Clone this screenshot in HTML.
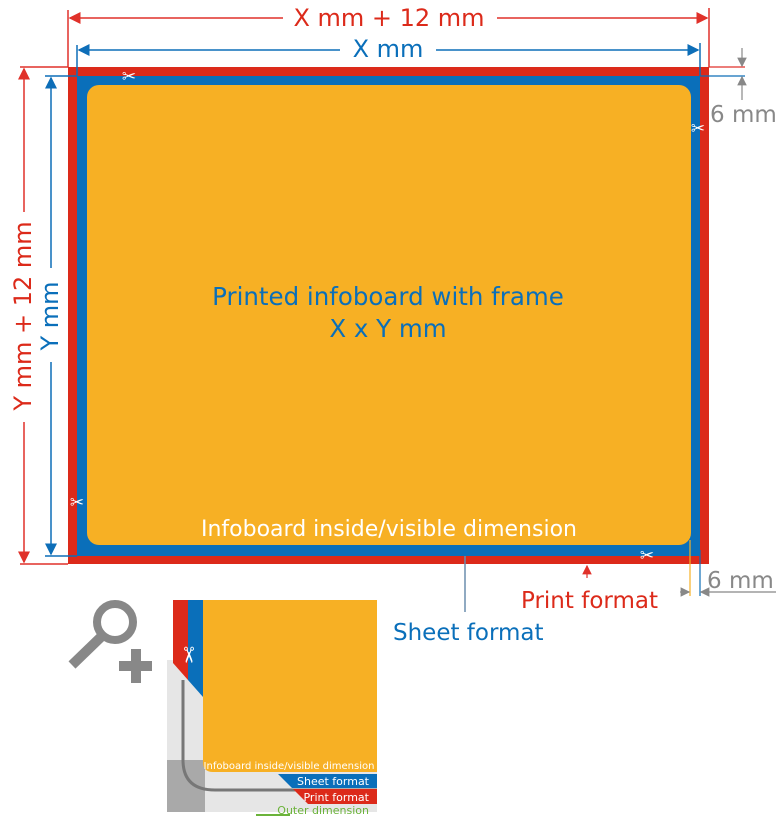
<!DOCTYPE html>
<html><head><style>body{margin:0;background:#fff}svg{display:block}text{font-family:"DejaVu Sans","Liberation Sans",sans-serif}</style></head>
<body>
<svg width="780" height="816" viewBox="0 0 780 816" xmlns="http://www.w3.org/2000/svg">
<defs>
<marker id="ar" markerWidth="8" markerHeight="8" refX="7" refY="4" orient="auto"><path d="M0,0 L8,4 L0,8z" fill="#e0312a"/></marker>
<marker id="ab" markerWidth="8" markerHeight="8" refX="7" refY="4" orient="auto"><path d="M0,0 L8,4 L0,8z" fill="#0d6eb8"/></marker>
<marker id="ag" markerWidth="8" markerHeight="8" refX="7" refY="4" orient="auto"><path d="M0,0 L8,4 L0,8z" fill="#888"/></marker>
</defs>
<rect x="68" y="67" width="641" height="497" fill="#dc2a1a"/>
<rect x="77" y="76" width="623" height="480" fill="#0a6fba"/>
<rect x="87" y="85" width="604" height="460" rx="12" fill="#f7b024"/>
<text x="388" y="305" font-size="24.5" fill="#0a6fba" text-anchor="middle">Printed infoboard with frame</text>
<text x="388" y="337" font-size="24.5" fill="#0a6fba" text-anchor="middle">X x Y mm</text>
<text x="389" y="536" font-size="22" fill="#fff" text-anchor="middle">Infoboard inside/visible dimension</text>
<text x="129" y="82" font-size="17" font-weight="bold" fill="#fff" text-anchor="middle">✂</text>
<text x="698" y="134" font-size="17" font-weight="bold" fill="#fff" text-anchor="middle">✂</text>
<text x="77" y="508" font-size="17" font-weight="bold" fill="#fff" text-anchor="middle">✂</text>
<text x="647" y="561" font-size="17" font-weight="bold" fill="#fff" text-anchor="middle">✂</text>
<line x1="68" y1="10" x2="68" y2="67" stroke="#e0312a" stroke-width="1.5"/>
<line x1="709" y1="8" x2="709" y2="67" stroke="#e0312a" stroke-width="1.5"/>
<line x1="283" y1="18" x2="70" y2="18" stroke="#e0312a" stroke-width="1.5" marker-end="url(#ar)"/>
<line x1="497" y1="18" x2="707" y2="18" stroke="#e0312a" stroke-width="1.5" marker-end="url(#ar)"/>
<text x="389" y="26" font-size="24" fill="#dc2a1a" text-anchor="middle">X mm + 12 mm</text>
<line x1="77" y1="45" x2="77" y2="76" stroke="#0d6eb8" stroke-width="1.5"/>
<line x1="700" y1="43" x2="700" y2="76" stroke="#0d6eb8" stroke-width="1.5"/>
<line x1="340" y1="50" x2="79" y2="50" stroke="#0d6eb8" stroke-width="1.5" marker-end="url(#ab)"/>
<line x1="436" y1="50" x2="698" y2="50" stroke="#0d6eb8" stroke-width="1.5" marker-end="url(#ab)"/>
<text x="388" y="57" font-size="24" fill="#0a6fba" text-anchor="middle">X mm</text>
<line x1="20" y1="67" x2="68" y2="67" stroke="#e0312a" stroke-width="1.5"/>
<line x1="20" y1="564" x2="68" y2="564" stroke="#e0312a" stroke-width="1.5"/>
<line x1="24" y1="212" x2="24" y2="69" stroke="#e0312a" stroke-width="1.5" marker-end="url(#ar)"/>
<line x1="24" y1="422" x2="24" y2="562" stroke="#e0312a" stroke-width="1.5" marker-end="url(#ar)"/>
<text transform="translate(31,316) rotate(-90)" font-size="24" fill="#dc2a1a" text-anchor="middle">Y mm + 12 mm</text>
<line x1="45" y1="76" x2="77" y2="76" stroke="#0d6eb8" stroke-width="1.5"/>
<line x1="45" y1="556" x2="77" y2="556" stroke="#0d6eb8" stroke-width="1.5"/>
<line x1="51" y1="268" x2="51" y2="78" stroke="#0d6eb8" stroke-width="1.5" marker-end="url(#ab)"/>
<line x1="51" y1="362" x2="51" y2="554" stroke="#0d6eb8" stroke-width="1.5" marker-end="url(#ab)"/>
<text transform="translate(58,316) rotate(-90)" font-size="24" fill="#0a6fba" text-anchor="middle">Y mm</text>
<line x1="709" y1="67" x2="745" y2="67" stroke="#e0312a" stroke-width="1.2"/>
<line x1="700" y1="76" x2="745" y2="76" stroke="#0d6eb8" stroke-width="1.2"/>
<line x1="742" y1="48" x2="742" y2="66" stroke="#888" stroke-width="1.2" marker-end="url(#ag)"/>
<line x1="742" y1="100" x2="742" y2="77" stroke="#888" stroke-width="1.2" marker-end="url(#ag)"/>
<text x="710" y="122" font-size="23" fill="#888">6 mm</text>
<line x1="690" y1="540" x2="690" y2="596" stroke="#f7b024" stroke-width="1.2"/>
<line x1="700" y1="550" x2="700" y2="596" stroke="#0d6eb8" stroke-width="1.2"/>
<line x1="680" y1="592" x2="689" y2="592" stroke="#888" stroke-width="1.2" marker-end="url(#ag)"/>
<line x1="776" y1="592" x2="701" y2="592" stroke="#888" stroke-width="1.2" marker-end="url(#ag)"/>
<text x="707" y="588" font-size="23" fill="#888">6 mm</text>
<line x1="587" y1="578" x2="587" y2="566" stroke="#e0312a" stroke-width="1.2" marker-end="url(#ar)"/>
<text x="521" y="608" font-size="23" fill="#dc2a1a">Print format</text>
<line x1="465" y1="556" x2="465" y2="612" stroke="#6a8eae" stroke-width="1.5"/>
<text x="393" y="640" font-size="23" fill="#0a6fba">Sheet format</text>
<circle cx="115" cy="622" r="18" fill="none" stroke="#888" stroke-width="8"/>
<line x1="102" y1="636" x2="72" y2="665" stroke="#888" stroke-width="10"/>
<rect x="119" y="661" width="33" height="10" fill="#888"/>
<rect x="131" y="649" width="10" height="34" fill="#888"/>
<path d="M167,660 L167,800 Q167,812 180,812 L377,812 L377,660z" fill="#e6e6e6"/>
<rect x="167" y="760" width="38" height="52" fill="#a9a9a9"/>
<path d="M183,680 L183,760 Q183,790 215,790 L377,790" fill="none" stroke="#777" stroke-width="3"/>
<polygon points="173,600 188,600 188,680 173,663" fill="#dc2a1a"/>
<polygon points="188,600 203,600 203,697 188,680" fill="#0a6fba"/>
<path d="M203,600 L377,600 L377,772 L213,772 Q203,772 203,762z" fill="#f7b024"/>
<text x="289" y="769" font-size="10" fill="#fff" text-anchor="middle">Infoboard inside/visible dimension</text>
<polygon points="278,774 377,774 377,788 292,788" fill="#0a6fba"/>
<text x="369" y="785" font-size="11" fill="#fff" text-anchor="end">Sheet format</text>
<polygon points="293,789 377,789 377,804 308,804" fill="#dc2a1a"/>
<text x="369" y="801" font-size="11" fill="#fff" text-anchor="end">Print format</text>
<text x="369" y="814" font-size="11" fill="#6bb33a" text-anchor="end">Outer dimension</text>
<line x1="256" y1="815" x2="290" y2="815" stroke="#6bb33a" stroke-width="2"/>
<text x="187" y="661" font-size="22" font-weight="bold" fill="#fff" text-anchor="middle" transform="rotate(90 187 655)">✂</text>
</svg>
</body></html>
